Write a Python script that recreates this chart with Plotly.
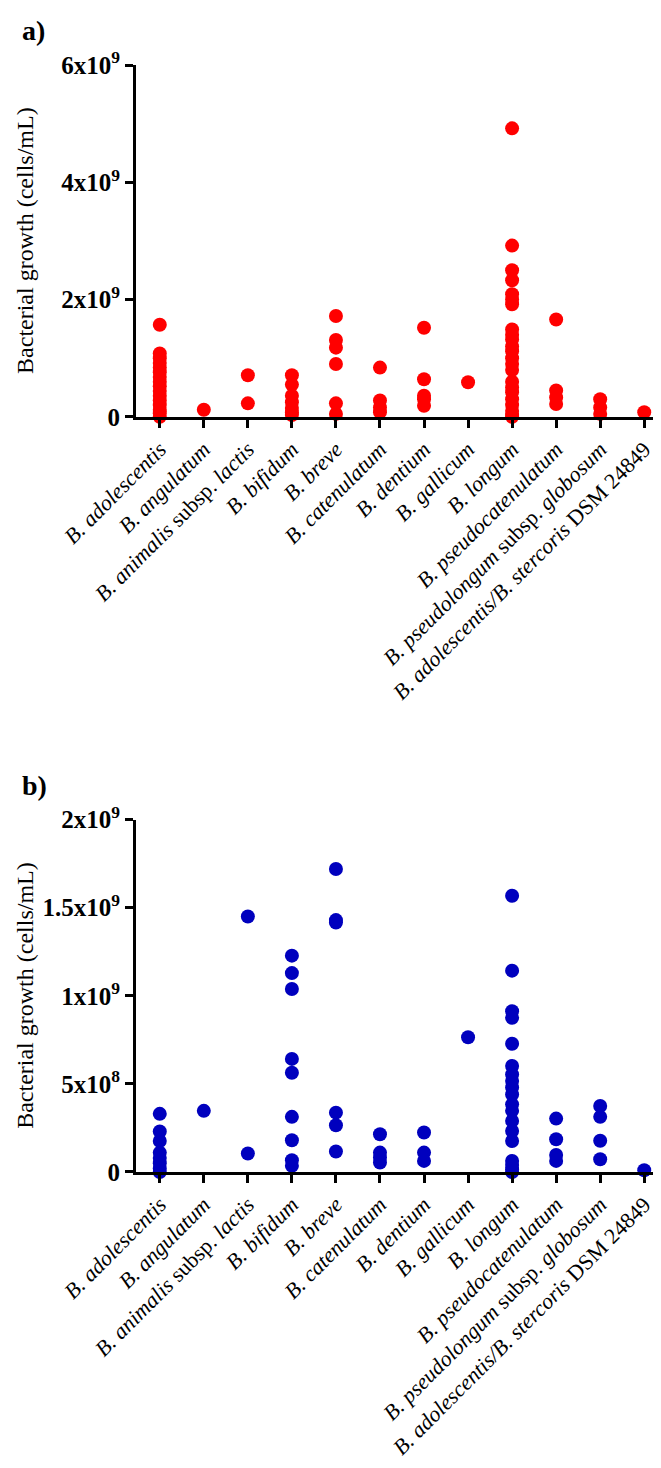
import plotly.graph_objects as go
from plotly.subplots import make_subplots

# Species on the x axis (HTML for the italic parts)
species = [
    "<i>B. adolescentis</i>",
    "<i>B. angulatum</i>",
    "<i>B. animalis</i> subsp. <i>lactis</i>",
    "<i>B. bifidum</i>",
    "<i>B. breve</i>",
    "<i>B. catenulatum</i>",
    "<i>B. dentium</i>",
    "<i>B. gallicum</i>",
    "<i>B. longum</i>",
    "<i>B. pseudocatenulatum</i>",
    "<i>B. pseudolongum</i> subsp. <i>globosum</i>",
    "<i>B. adolescentis/B. stercoris</i> DSM 24849",
]

# Panel a) bacterial growth, x10^9 cells/mL, one list per species
growth_a = [
    [1.57, 1.08, 1.0, 0.92, 0.84, 0.76, 0.68, 0.6, 0.52, 0.44, 0.36, 0.28, 0.2, 0.12, 0.06, 0.0],
    [0.12],
    [0.71, 0.23],
    [0.71, 0.55, 0.36, 0.25, 0.15, 0.08, 0.03],
    [1.72, 1.31, 1.18, 0.9, 0.23, 0.05],
    [0.84, 0.28, 0.16, 0.08],
    [1.52, 0.64, 0.36, 0.3, 0.19],
    [0.59],
    [4.92, 2.92, 2.5, 2.33, 2.09, 2.0, 1.92, 1.49, 1.4, 1.32, 1.2, 1.12, 1.0, 0.9, 0.8,
     0.6, 0.5, 0.42, 0.3, 0.2, 0.1, 0.03, 0.0],
    [1.66, 0.45, 0.33, 0.22],
    [0.3, 0.16, 0.05],
    [0.08],
]

# Panel b)
growth_b = [
    [0.33, 0.23, 0.176, 0.11, 0.08, 0.05, 0.02, 0.0],
    [0.347],
    [1.45, 0.105],
    [1.228, 1.129, 1.039, 0.642, 0.563, 0.313, 0.18, 0.067, 0.035],
    [1.72, 1.43, 1.416, 0.337, 0.265, 0.116],
    [0.214, 0.11, 0.082, 0.054],
    [0.224, 0.11, 0.063],
    [0.765],
    [1.568, 1.143, 0.913, 0.875, 0.728, 0.602, 0.554, 0.517, 0.48, 0.44, 0.384, 0.347,
     0.29, 0.233, 0.176, 0.063, 0.04, 0.016, 0.0],
    [0.303, 0.186, 0.097, 0.063],
    [0.375, 0.313, 0.177, 0.072],
    [0.01],
]

ticks_a = [0, 2e9, 4e9, 6e9]
ticklabels_a = ["0", "2x10<sup>9</sup>", "4x10<sup>9</sup>", "6x10<sup>9</sup>"]
ticks_b = [0, 5e8, 1e9, 1.5e9, 2e9]
ticklabels_b = ["0", "5x10<sup>8</sup>", "1x10<sup>9</sup>", "1.5x10<sup>9</sup>", "2x10<sup>9</sup>"]

W, H = 661, 1468
L, R, T, B = 128, 1, 57, 303.5
plot_h = H - T - B
plot_w = W - L - R


def dom(top_px, bottom_px):
    return [(H - B - bottom_px) / plot_h, (H - B - top_px) / plot_h]


def px_x(x):
    return (x - L) / plot_w


def px_y(y):
    return (H - B - y) / plot_h


fig = make_subplots(rows=2, cols=1)

for row, (vals, color) in enumerate([(growth_a, "#FF0000"), (growth_b, "#0000BE")], start=1):
    xs, ys = [], []
    for i, v in enumerate(vals):
        xs += [i] * len(v)
        ys += [y * 1e9 for y in v]
    fig.add_trace(go.Scatter(
        x=xs, y=ys, mode="markers", cliponaxis=False, showlegend=False,
        marker=dict(color=color, size=14, line=dict(width=0))
    ), row=row, col=1)

serif = "Liberation Serif"
for row in (1, 2):
    fig.update_xaxes(
        row=row, col=1, range=[-0.54, 11.54], automargin=False,
        tickmode="array", tickvals=list(range(len(species))), ticktext=species,
        tickangle=-45, ticks="outside", ticklen=8, tickwidth=3, tickcolor="black",
        showline=True, linewidth=3, linecolor="black", showgrid=False, zeroline=False,
        tickfont=dict(family=serif, size=22, color="black")
    )

fig.update_yaxes(row=1, col=1, range=[0, 6e9], domain=dom(57, 409),
                 tickvals=ticks_a, ticktext=ticklabels_a)
fig.update_yaxes(row=2, col=1, range=[0, 2e9], domain=dom(812, 1164.5),
                 tickvals=ticks_b, ticktext=ticklabels_b)
fig.update_yaxes(
    tickmode="array", automargin=False, ticks="outside", ticklen=8, tickwidth=3, tickcolor="black",
    showline=True, linewidth=3, linecolor="black", showgrid=False, zeroline=False,
    tickfont=dict(family=serif, size=25, color="black", weight="bold")
)

# y axis titles and panel letters
for top_px, bottom_px, letter, letter_y in [(57, 409, "a)", 22), (812, 1164.5, "b)", 778)]:
    fig.add_annotation(text="Bacterial growth (cells/mL)", textangle=-90, showarrow=False,
                       xref="paper", yref="paper", x=px_x(17), y=px_y((top_px + bottom_px) / 2),
                       xanchor="center", yanchor="middle",
                       font=dict(family=serif, size=24, color="black"))
    fig.add_annotation(text="<b>%s</b>" % letter, xref="paper", yref="paper", showarrow=False,
                       x=px_x(12), y=px_y(letter_y), xanchor="left", yanchor="middle",
                       font=dict(family=serif, size=28, color="black"))

fig.update_layout(
    width=W, height=H, margin=dict(l=L, r=R, t=T, b=B, autoexpand=False),
    plot_bgcolor="white", paper_bgcolor="white"
)

fig.write_html("out.html")
